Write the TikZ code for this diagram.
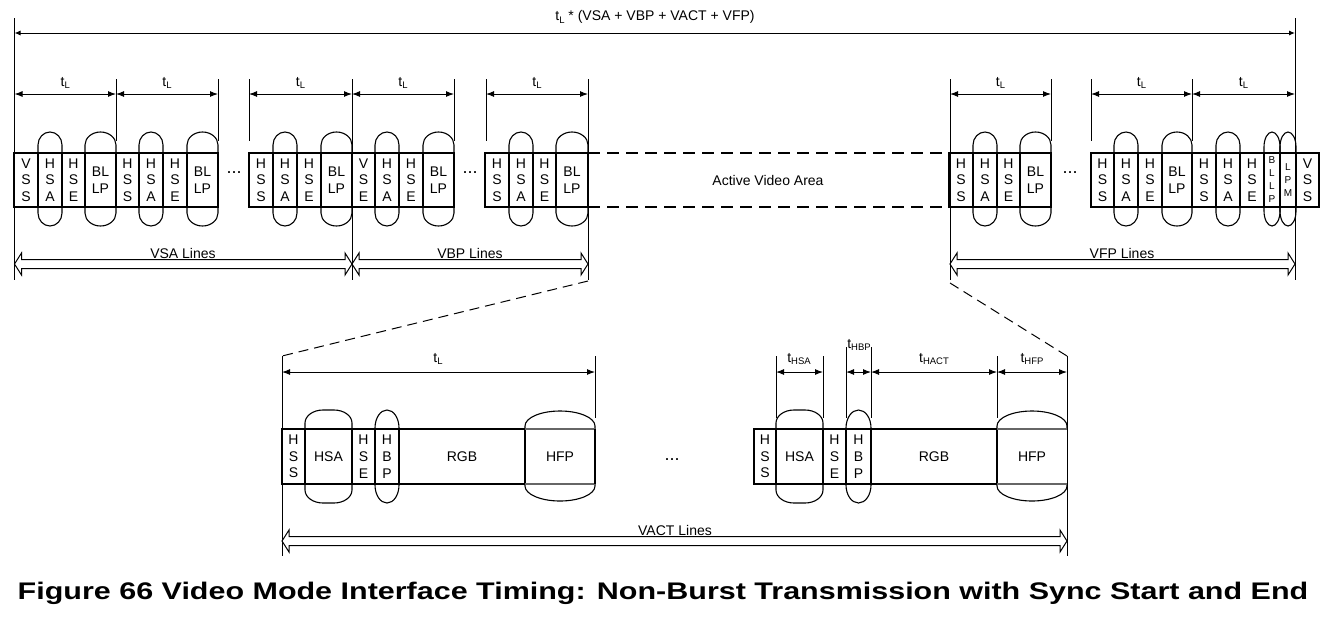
\documentclass[tikz,border=0pt]{standalone}
\usepackage{fontspec}
\setmainfont{Liberation Sans}
\usetikzlibrary{arrows.meta}
\newcommand{\tsub}[1]{t\raisebox{-2.5pt}{\fontsize{9.5}{10}\selectfont #1}}
% oval caps above and below a cell: x1 x2 ytop ybot exttop extbot rx ry
\newcommand{\ocap}[8]{%
 \draw[ovl] (#1,#3) -- (#1,{#3-#5+#8}) arc[start angle=180,end angle=90,x radius=#7pt,y radius=#8pt] -- ({#2-#7},{#3-#5}) arc[start angle=90,end angle=0,x radius=#7pt,y radius=#8pt] -- (#2,#3);
 \draw[ovl] (#1,#4) -- (#1,{#4+#6-#8}) arc[start angle=180,end angle=270,x radius=#7pt,y radius=#8pt] -- ({#2-#7},{#4+#6}) arc[start angle=270,end angle=360,x radius=#7pt,y radius=#8pt] -- (#2,#4);}
% hollow double arrow: x1 x2 yc
\newcommand{\hollowarr}[3]{%
 \draw[hol] (#1,#3) -- ({#1+7},{#3-11}) -- ({#1+7},{#3-4.5}) -- ({#2-7},{#3-4.5}) -- ({#2-7},{#3-11}) -- (#2,#3) -- ({#2-7},{#3+11}) -- ({#2-7},{#3+4.5}) -- ({#1+7},{#3+4.5}) -- ({#1+7},{#3+11}) -- cycle;}
% top-row cell: x1 width text name
\newcommand{\tc}[4]{\node[tcell,minimum width=#2pt] (#4) at ({#1+#2/2},180) {#3};}
\newcommand{\tcs}[4]{\node[tcell,minimum width=#2pt,font=\fontsize{10}{13}\selectfont] (#4) at ({#1+#2/2},180) {#3};}
% bottom-row cell
\newcommand{\bc}[4]{\node[bcell,minimum width=#2pt] (#4) at ({#1+#2/2},456.5) {#3};}
\tikzset{
  tcell/.style={draw,line width=1.8pt,minimum height=54pt,inner sep=0pt,outer sep=0pt,align=center,font=\fontsize{14}{16.7}\selectfont},
  bcell/.style={draw,line width=1.8pt,minimum height=55pt,inner sep=0pt,outer sep=0pt,align=center,font=\fontsize{14}{16.7}\selectfont},
  ovl/.style={line width=1.1pt},
  hol/.style={line width=1pt},
  dim/.style={line width=1pt,{Latex[length=8pt,width=6pt]}-{Latex[length=8pt,width=6pt]}},
  vline/.style={line width=1pt},
  lab/.style={font=\fontsize{14}{16}\selectfont,inner sep=0pt},
  dotlab/.style={font=\fontsize{18}{18}\selectfont,inner sep=0pt},
}
\begin{document}
\begin{tikzpicture}[x=1pt,y=-1pt]
\useasboundingbox (0,0) rectangle (1332,619);

% ---------- top overall ----------
\draw[vline] (14.5,18) -- (14.5,280);
\draw[vline] (1295,18) -- (1295,280);
\draw[line width=1pt,{Latex[length=6pt,width=5pt]}-{Latex[length=6pt,width=5pt]}] (14.5,33) -- (1295,33);
\node[lab] (total) at (655,17) {\tsub{L} * (VSA + VBP + VACT + VFP)};

% ---------- vertical tick lines ----------
\foreach \x in {116,218,249,454,486,1051,1091,1192} \draw[vline] (\x,79) -- (\x,141);
\foreach \x in {352,588,950} \draw[vline] (\x,79) -- (\x,280);

% ---------- tL dimension arrows ----------
\foreach \a/\b in {14.5/116,116/218,249/352,352/454,486/588,950/1051,1091/1192,1192/1295}{
  \draw[dim] (\a,94) -- (\b,94);
  \node[lab] at ({(\a+\b)/2},83) {\tsub{L}};
}

% ---------- top row ovals ----------
\foreach \x/\w in {38/24,85/31,139/24,187/31,273/24,321/31,375/24,423/31,509/24,556/32,973/24,1020/31,1114/24,1162/30,1216/24}
  {\ocap{\x}{\x+\w}{153}{207}{21}{19}{\w/2}{13}}
\ocap{1264}{1280}{153}{207}{21}{19}{8}{15}
\ocap{1280}{1296}{153}{207}{21}{19}{8}{15}

% ---------- top row cells ----------
\tc{14}{24}{V\\S\\S}{a1}\tc{38}{24}{H\\S\\A}{a2}\tc{62}{23}{H\\S\\E}{a3}\tc{85}{31}{BL\\LP}{a4}
\tc{116}{23}{H\\S\\S}{a5}\tc{139}{24}{H\\S\\A}{a6}\tc{163}{24}{H\\S\\E}{a7}\tc{187}{31}{BL\\LP}{a8}
\tc{249}{24}{H\\S\\S}{b1}\tc{273}{24}{H\\S\\A}{b2}\tc{297}{24}{H\\S\\E}{b3}\tc{321}{31}{BL\\LP}{b4}
\tc{352}{23}{V\\S\\E}{b5}\tc{375}{24}{H\\S\\A}{b6}\tc{399}{24}{H\\S\\E}{b7}\tc{423}{31}{BL\\LP}{b8}
\tc{485}{24}{H\\S\\S}{c1}\tc{509}{24}{H\\S\\A}{c2}\tc{533}{23}{H\\S\\E}{c3}\tc{556}{32}{BL\\LP}{c4}
\tc{949}{24}{H\\S\\S}{d1}\tc{973}{24}{H\\S\\A}{d2}\tc{997}{23}{H\\S\\E}{d3}\tc{1020}{31}{BL\\LP}{d4}
\tc{1091}{23}{H\\S\\S}{e1}\tc{1114}{24}{H\\S\\A}{e2}\tc{1138}{24}{H\\S\\E}{e3}\tc{1162}{30}{BL\\LP}{e4}
\tc{1192}{24}{H\\S\\S}{e5}\tc{1216}{24}{H\\S\\A}{e6}\tc{1240}{24}{H\\S\\E}{e7}
\tcs{1264}{16}{B\\L\\L\\P}{e8}\tcs{1280}{16}{L\\P\\M}{e9}\tc{1296}{23}{V\\S\\S}{e10}

\node[dotlab] (dots1) at (234,173) {...};
\node[dotlab] (dots2) at (470,173) {...};
\node[dotlab] (dots3) at (1070,173) {...};

% ---------- active video area ----------
\draw[line width=1.8pt,dash pattern=on 12pt off 7pt] (c4.north east) -- (d1.north west);
\draw[line width=1.8pt,dash pattern=on 12pt off 7pt] (c4.south east) -- (d1.south west);
\node[lab] (ava) at (768,180) {Active Video Area};

% ---------- line-count arrows ----------
\hollowarr{14.5}{352}{264}
\hollowarr{352}{588}{264}
\hollowarr{950}{1295}{264}
\node[lab] (vsa) at (183,253) {VSA Lines};
\node[lab] (vbp) at (470,253) {VBP Lines};
\node[lab] (vfp) at (1122,253) {VFP Lines};

% ---------- zoom lines ----------
\coordinate (zl) at (282,356);
\coordinate (zr) at (1067,356);
\draw[line width=1pt,dash pattern=on 10pt off 6pt] (588,281) -- (zl);
\draw[line width=1pt,dash pattern=on 10pt off 6pt] (950,283) -- (zr);

% ---------- bottom verticals & dimensions ----------
\draw[vline] (zl) -- (282,556);
\draw[vline] (zr) -- (1067,556);
\foreach \x in {595,776,823,997} \draw[vline] (\x,356) -- (\x,418);
\foreach \x in {846,871} \draw[vline] (\x,347) -- (\x,418);
\draw[dim] (282,372) -- (595,372);
\node[lab] at (438,359) {\tsub{L}};
\draw[dim] (776,372) -- (823,372);
\draw[dim] (846,372) -- (871,372);
\draw[dim] (871,372) -- (997,372);
\draw[dim] (997,372) -- (1067,372);
\node[lab] at (799,359) {\tsub{HSA}};
\node[lab] at (859,345) {\tsub{HBP}};
\node[lab] at (934,359) {\tsub{HACT}};
\node[lab] at (1032,359) {\tsub{HFP}};

% ---------- bottom ovals ----------
\ocap{305}{352}{429}{484}{19}{19}{18}{13}
\ocap{375}{399}{429}{484}{19}{19}{12}{18}
\ocap{525}{595}{429}{484}{18}{17}{35}{15}
\ocap{776}{823}{429}{484}{19}{19}{18}{13}
\ocap{846}{871}{429}{484}{19}{19}{12.5}{18}
\ocap{997}{1067}{429}{484}{18}{17}{35}{15}

% ---------- bottom cells ----------
\bc{282}{23}{H\\S\\S}{f1}\bc{305}{47}{HSA}{f2}\bc{352}{23}{H\\S\\E}{f3}\bc{375}{24}{H\\B\\P}{f4}\bc{399}{126}{RGB}{f5}
\node[font=\fontsize{14}{16}\selectfont] (f6) at (560,456.5) {HFP};
\draw[line width=1.3pt,black!60] (525,429) -- (595,429);
\draw[line width=1.3pt,black!60] (525,484) -- (595,484);
\draw[ovl] (595,429) -- (595,484);
\bc{754}{22}{H\\S\\S}{g1}\bc{776}{47}{HSA}{g2}\bc{823}{23}{H\\S\\E}{g3}\bc{846}{25}{H\\B\\P}{g4}\bc{871}{126}{RGB}{g5}
\node[font=\fontsize{14}{16}\selectfont] (g6) at (1032,456.5) {HFP};
\draw[line width=1.3pt,black!60] (997,429) -- (1067,429);
\draw[line width=1.3pt,black!60] (997,484) -- (1067,484);
\node[dotlab] (dots4) at (672,460) {...};

\hollowarr{282}{1067}{541}
\node[lab] (vact) at (675,530) {VACT Lines};

% ---------- caption ----------
\node[font=\bfseries\fontsize{24}{28}\selectfont,inner sep=0pt,anchor=base] (cap) at (663,599) {\scalebox{1.27}[1]{Figure 66 Video Mode Interface Timing: Non-Burst Transmission with Sync Start and End}};
\end{tikzpicture}
\end{document}
